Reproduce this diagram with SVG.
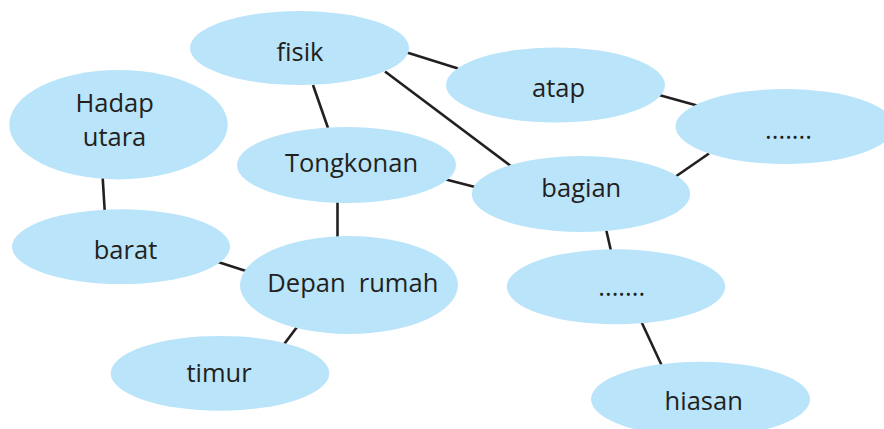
<svg xmlns="http://www.w3.org/2000/svg" width="884" height="429" viewBox="0 0 884 429">
<style>
.n{fill:#b9e4f9}
.t{font-family:"Open Sans","Noto Sans",sans-serif;font-size:25.5px;fill:#231f20;text-anchor:middle;white-space:pre}
.c line{stroke:#231f20;stroke-width:2.6;stroke-linecap:butt}
</style>
<rect width="884" height="429" fill="#ffffff"/>
<g class="c" id="connectors">
<line x1="313" y1="85" x2="328" y2="128"/>
<line x1="407" y1="52.5" x2="458" y2="68.5"/>
<line x1="385" y1="71.5" x2="512" y2="167"/>
<line x1="659" y1="95" x2="697" y2="105.5"/>
<line x1="709" y1="153.5" x2="675" y2="177"/>
<line x1="446" y1="179.5" x2="475" y2="187"/>
<line x1="337.5" y1="202" x2="337.5" y2="237"/>
<line x1="102.7" y1="178" x2="104.7" y2="211"/>
<line x1="218" y1="262" x2="246" y2="271"/>
<line x1="297" y1="327" x2="283.5" y2="345"/>
<line x1="606" y1="229" x2="611" y2="251"/>
<line x1="641.5" y1="322" x2="661.5" y2="365"/>
</g>
<g id="fisik"><ellipse class="n" cx="299.5" cy="48" rx="109.5" ry="37"/><text class="t" x="300" y="61">fisik</text></g>
<g id="atap"><ellipse class="n" cx="555.5" cy="85" rx="109.5" ry="37.5"/><text class="t" x="558.5" y="96.7">atap</text></g>
<g id="dots1"><ellipse class="n" cx="785" cy="126.5" rx="109.5" ry="37.5"/><text class="t" x="788.5" y="139">.......</text></g>
<g id="hadap"><ellipse class="n" cx="118.5" cy="124.7" rx="109.2" ry="54.7"/><text class="t" x="114.7" y="111.7">Hadap</text><text class="t" x="114.5" y="146">utara</text></g>
<g id="tongkonan"><ellipse class="n" cx="346.5" cy="165" rx="109.5" ry="38"/><text class="t" x="351.5" y="172">Tongkonan</text></g>
<g id="bagian"><ellipse class="n" cx="581" cy="194" rx="109.2" ry="38"/><text class="t" x="581.3" y="196.7">bagian</text></g>
<g id="barat"><ellipse class="n" cx="121" cy="246.7" rx="109" ry="37.4"/><text class="t" x="125.5" y="259.3">barat</text></g>
<g id="depan"><ellipse class="n" cx="349" cy="285" rx="109" ry="49"/><text class="t" x="352.8" y="291.7">Depan  rumah</text></g>
<g id="dots2"><ellipse class="n" cx="616" cy="286.8" rx="109.2" ry="37.5"/><text class="t" x="621.7" y="296">.......</text></g>
<g id="timur"><ellipse class="n" cx="220" cy="373.3" rx="109.3" ry="37.4"/><text class="t" x="219" y="381.7">timur</text></g>
<g id="hiasan"><ellipse class="n" cx="700.5" cy="399.2" rx="109.5" ry="37.5"/><text class="t" x="703.7" y="410">hiasan</text></g>
</svg>
